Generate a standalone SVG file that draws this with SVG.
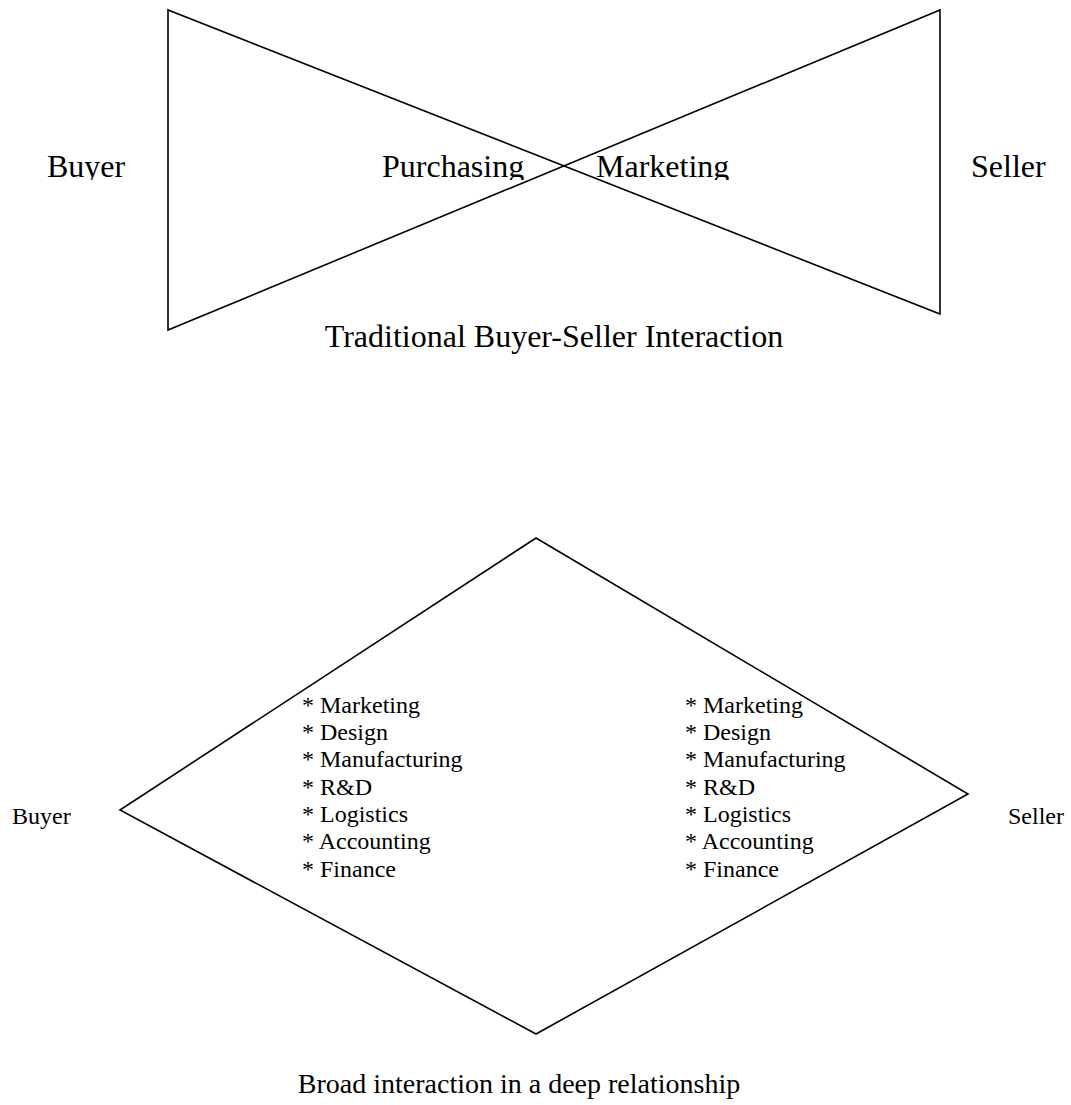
<svg xmlns="http://www.w3.org/2000/svg" width="1071" height="1105" viewBox="0 0 1071 1105">
  <style>
    .ln { fill: none; stroke: #000; stroke-width: 1.6; stroke-linejoin: miter; }
    .big { font-family: "Liberation Serif", "Times New Roman", serif; font-size: 32px; fill: #000; }
    .mid { font-family: "Liberation Serif", "Times New Roman", serif; font-size: 28px; fill: #000; }
    .sm { font-family: "Liberation Serif", "Times New Roman", serif; font-size: 24px; fill: #000; }
  </style>
  <defs>
    <clipPath id="topclip"><rect x="0" y="0" width="1071" height="180"/></clipPath>
  </defs>
  <rect x="0" y="0" width="1071" height="1105" fill="#fff"/>

  <g id="traditional">
    <g id="bowtie">
      <path class="ln" d="M168,10 L168,330 L940,10 L940,314 L168,10 Z"/>
    </g>
    <g id="top-labels" clip-path="url(#topclip)">
      <text class="big" x="47" y="177">Buyer</text>
      <text class="big" x="382" y="177">Purchasing</text>
      <text class="big" x="596" y="177">Marketing</text>
      <text class="big" x="971" y="177">Seller</text>
    </g>
    <text id="top-caption" class="big" x="554" y="347" text-anchor="middle">Traditional Buyer-Seller Interaction</text>
  </g>

  <g id="broad">
    <g id="diamond">
      <path class="ln" d="M536,538 L968,794 L536,1034 L120,810 Z"/>
    </g>
    <text id="buyer2" class="sm" x="12" y="824">Buyer</text>
    <text id="seller2" class="sm" x="1008" y="824">Seller</text>
    <g id="buyer-list" class="sm">
      <text x="302" y="713">* Marketing</text>
      <text x="302" y="740">* Design</text>
      <text x="302" y="767">* Manufacturing</text>
      <text x="302" y="795">* R&amp;D</text>
      <text x="302" y="822">* Logistics</text>
      <text x="302" y="849">* Accounting</text>
      <text x="302" y="877">* Finance</text>
    </g>
    <g id="seller-list" class="sm">
      <text x="685" y="713">* Marketing</text>
      <text x="685" y="740">* Design</text>
      <text x="685" y="767">* Manufacturing</text>
      <text x="685" y="795">* R&amp;D</text>
      <text x="685" y="822">* Logistics</text>
      <text x="685" y="849">* Accounting</text>
      <text x="685" y="877">* Finance</text>
    </g>
    <text id="bottom-caption" class="mid" x="519" y="1093" text-anchor="middle">Broad interaction in a deep relationship</text>
  </g>
</svg>
